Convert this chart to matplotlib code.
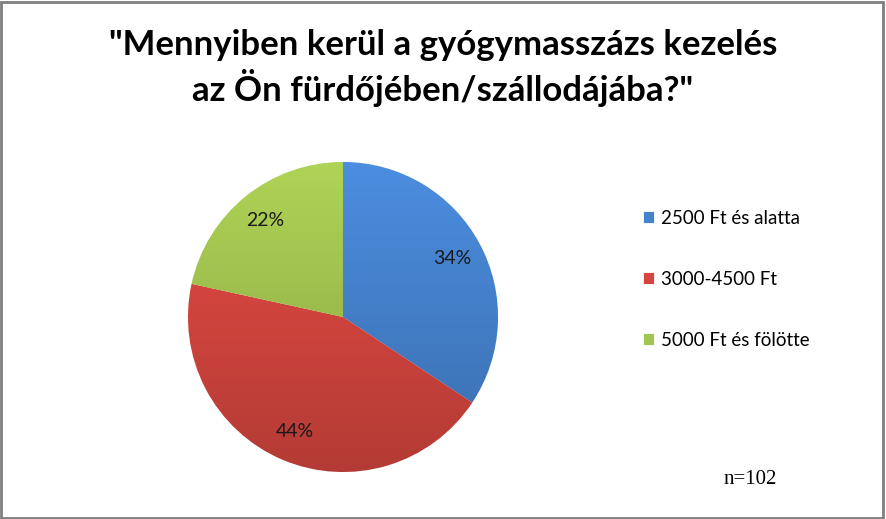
import numpy as np
import matplotlib
matplotlib.use("Agg")
import matplotlib.pyplot as plt
from matplotlib.colors import to_rgb
from matplotlib.patches import Rectangle

# survey answers (n=102)
categories = ["2500 Ft és alatta", "3000-4500 Ft", "5000 Ft és fölötte"]
counts = [35, 45, 22]
colors = ["#4683cf", "#d6463f", "#a2c450"]
title_lines = ['"Mennyiben kerül a gyógymasszázs kezelés',
               'az Ön fürdőjében/szállodájába?"']
note = "n=102"

plt.rcParams["font.family"] = ["Lato", "DejaVu Sans"]

W, H = 886, 519
fig = plt.figure(figsize=(W / 100, H / 100), dpi=100)

cx, cy, r = 343, 317, 155
ax = fig.add_axes([(cx - r) / W, (H - cy - r) / H, 2 * r / W, 2 * r / H])

wedges, texts, autotexts = ax.pie(
    counts, colors=colors, startangle=90, counterclock=False,
    autopct=lambda p: f"{p:.0f}%", pctdistance=0.8,
    wedgeprops=dict(edgecolor="white", linewidth=0.6),
    textprops=dict(fontsize=14, color="#1a1a1a"))
ax.set_xlim(-1, 1)
ax.set_ylim(-1, 1)

# fake the excel gradient: lighter on top, darker below
yy = np.linspace(1, -1, 200)[:, None] * np.ones((1, 200))
for w, c in zip(wedges, colors):
    base = np.array(to_rgb(c))
    t = (yy + 1) / 2
    img = np.empty((200, 200, 3))
    for k in range(3):
        img[..., k] = np.clip(base[k] * (0.84 + 0.24 * t), 0, 1)
    im = ax.imshow(img, extent=(-1, 1, -1, 1), zorder=w.get_zorder() + 0.1,
                   interpolation="bilinear")
    im.set_clip_path(w)
for t in autotexts:
    t.set_zorder(5)

for yl, line in zip([45, 88], title_lines):
    fig.text(0.5, 1 - yl / H, line, ha="center", va="center",
             fontsize=25, fontweight="bold")

leg = fig.legend(wedges, categories, loc="upper left",
                 bbox_to_anchor=(626 / W, 1 - 193 / H), frameon=False,
                 fontsize=13.5, labelspacing=2.35, handlelength=0.6,
                 handleheight=0.6, handletextpad=0.35)

fig.text(750 / W, 1 - 480 / H, note, ha="center", va="center",
         fontsize=15, family="Liberation Serif")

fig.patches.append(Rectangle((0.001, 0.002), 0.996, 0.995, transform=fig.transFigure,
                             fill=False, edgecolor="#7f7f7f", linewidth=2))

fig.savefig("out.png", dpi=100)
